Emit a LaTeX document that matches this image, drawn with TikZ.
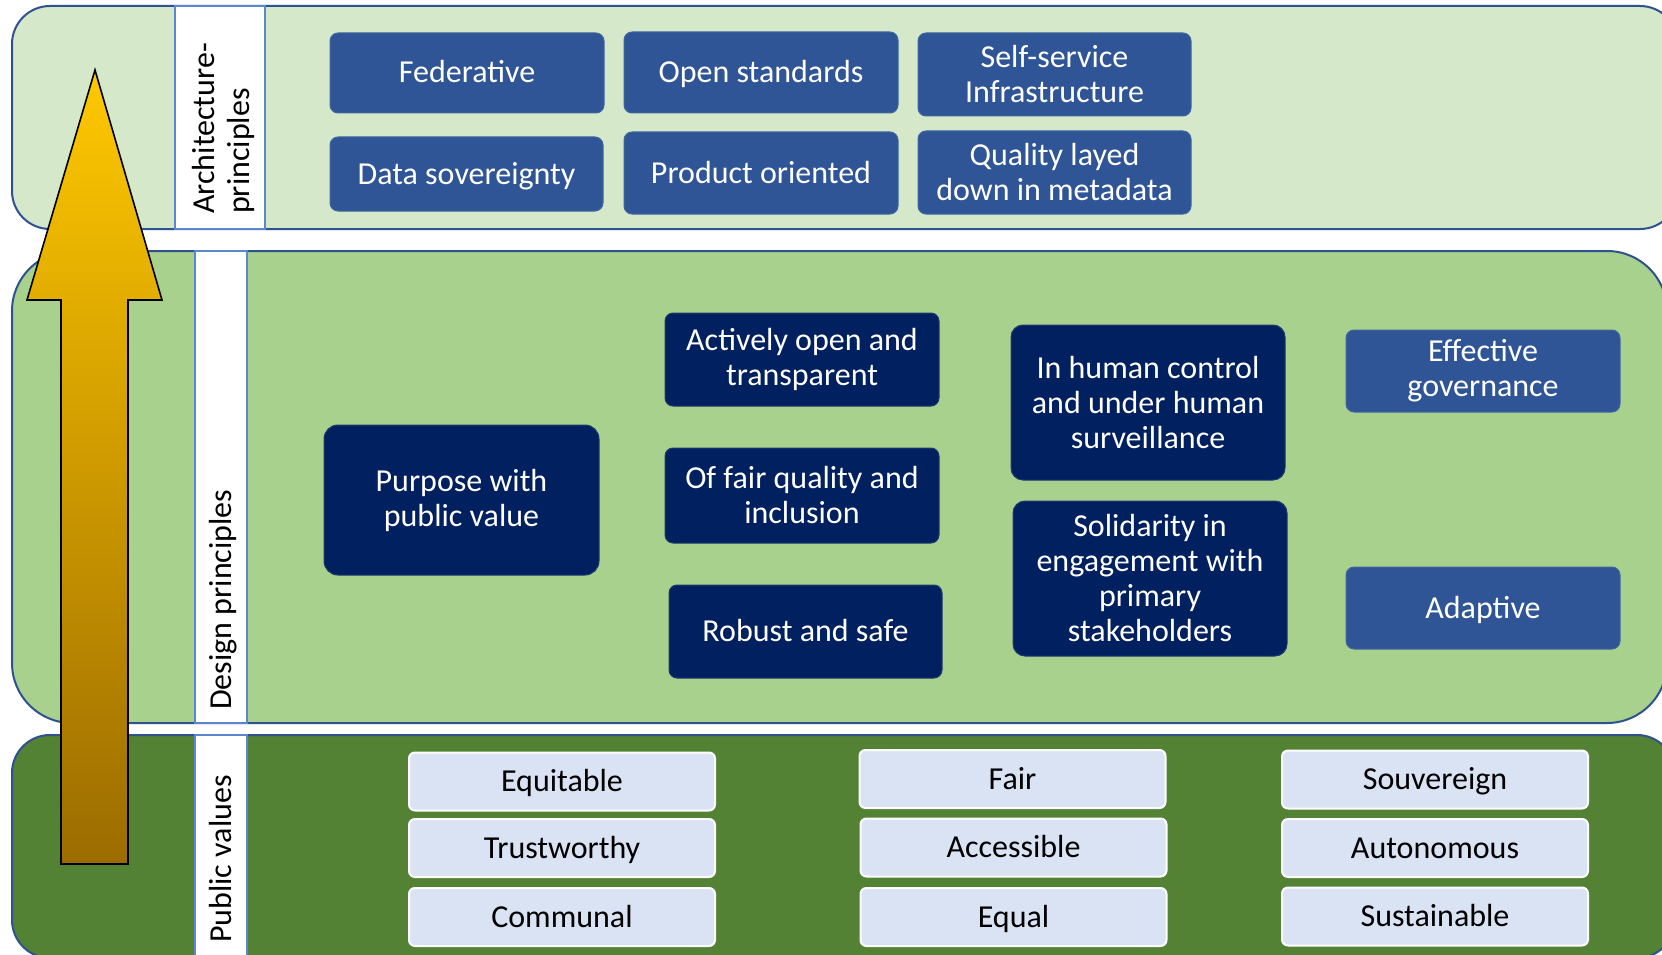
\documentclass[tikz,border=0pt]{standalone}
\usepackage{fontspec}
\setmainfont{Carlito}
\definecolor{topgreen}{HTML}{D5E8CA}
\definecolor{midgreen}{HTML}{A9D18E}
\definecolor{botgreen}{HTML}{548235}
\definecolor{bandline}{HTML}{2F528F}
\definecolor{stripline}{HTML}{5B87CF}
\definecolor{navy}{HTML}{002060}
\definecolor{navyline}{HTML}{1F3A6E}
\definecolor{medblue}{HTML}{2F5597}
\definecolor{medline}{HTML}{41679F}
\definecolor{lightbl}{HTML}{DAE3F3}
\definecolor{arrowtop}{HTML}{FFC800}
\definecolor{arrowbot}{HTML}{9C6C00}
\begin{document}
\begin{tikzpicture}[x=1pt,y=-1pt,
  band/.style={draw=bandline, line width=2pt},
  strip/.style={draw=stripline, fill=white, line width=2pt},
  txt/.style={font=\fontsize{32pt}{35pt}\selectfont},
  box/.style={txt, rounded corners=8pt, align=center, inner sep=0pt},
  oneline/.style={text height=24pt, text depth=4pt},
  navybox/.style={box, fill=navy, draw=navyline, line width=1pt, text=white},
  bluebox/.style={box, fill=medblue, draw=medline, line width=1pt, text=white},
  lightbox/.style={box, oneline, fill=lightbl, draw=white, line width=2pt, text=black, rounded corners=6pt,
    minimum width=306pt, minimum height=58pt},
  sidelabel/.style={txt, rotate=90, inner sep=0pt, text=black}
]
\useasboundingbox (0,0) rectangle (1662,955);
\clip (0,0) rectangle (1662,955);
\fill[white] (0,0) rectangle (1662,955);

% bands
\draw[band, fill=topgreen, rounded corners=38pt] (12,6) rectangle (1678,229);
\draw[band, fill=midgreen, rounded corners=60pt] (12,251) rectangle (1667,723);
\draw[band, fill=botgreen, rounded corners=38pt] (12,735) rectangle (1675,958);

% label strips
\draw[strip] (175,6) rectangle (265,229);
\draw[strip] (195,251) rectangle (247,723);
\draw[strip] (195,735) rectangle (247,962);

\node[sidelabel, anchor=west, align=left] (archlab) at (223,214) {Architecture-\\principles};
\node[sidelabel, anchor=base west] (designlab) at (231,710) {Design principles};
\node[sidelabel, anchor=base west] (publab) at (231,943) {Public values};

% architecture principles
\node[bluebox, oneline, minimum width=274pt, minimum height=80pt] (fed) at (467,73) {Federative};
\node[bluebox, oneline, minimum width=274pt, minimum height=81pt] (open) at (761,72.5) {Open standards};
\node[bluebox, minimum width=273pt, minimum height=83pt] (self) at (1054.5,74.5) {Self-service\\Infrastructure};
\node[bluebox, oneline, minimum width=273pt, minimum height=74pt] (data) at (466.5,174) {Data sovereignty};
\node[bluebox, oneline, minimum width=274pt, minimum height=82pt] (prod) at (761,173) {Product oriented};
\node[bluebox, minimum width=273pt, minimum height=83pt] (qual) at (1054.5,172.5) {Quality layed\\down in metadata};

% design principles
\node[navybox, rounded corners=14pt, minimum width=275pt, minimum height=150pt] (purp) at (461.5,500) {Purpose with\\public value};
\node[navybox, minimum width=274pt, minimum height=93pt] (act) at (802,359.5) {Actively open and\\transparent};
\node[navybox, minimum width=274pt, minimum height=95pt] (fairq) at (802,495.5) {Of fair quality and\\inclusion};
\node[navybox, oneline, minimum width=273pt, minimum height=93pt] (robust) at (805.5,631.5) {Robust and safe};
\node[navybox, rounded corners=12pt, minimum width=274pt, minimum height=155pt] (human) at (1148,402.5) {In human control\\and under human\\surveillance};
\node[navybox, rounded corners=12pt, minimum width=274pt, minimum height=155pt] (solid) at (1150,578.5) {Solidarity in\\engagement with\\primary\\stakeholders};
\node[bluebox, minimum width=274pt, minimum height=82pt] (eff) at (1483,371) {Effective\\governance};
\node[bluebox, oneline, minimum width=274pt, minimum height=82pt] (adapt) at (1483,608) {Adaptive};

% public values
\node[lightbox] (equit) at (562,781.5) {Equitable};
\node[lightbox] (trust) at (562,848) {Trustworthy};
\node[lightbox] (comm) at (562,917) {Communal};
\node[lightbox] (fair) at (1012.5,779) {Fair};
\node[lightbox] (access) at (1013.5,847.5) {Accessible};
\node[lightbox] (equal) at (1013.5,917) {Equal};
\node[lightbox] (souv) at (1435,779.5) {Souvereign};
\node[lightbox] (auton) at (1435,848) {Autonomous};
\node[lightbox] (sust) at (1435,916.5) {Sustainable};

% upward arrow
\shadedraw[top color=arrowtop, bottom color=arrowbot, draw=black, line width=1.6pt, line join=miter]
  (95,70) -- (162,300) -- (128,300) -- (128,864) -- (61,864) -- (61,300) -- (27,300) -- cycle;
\end{tikzpicture}
\end{document}
